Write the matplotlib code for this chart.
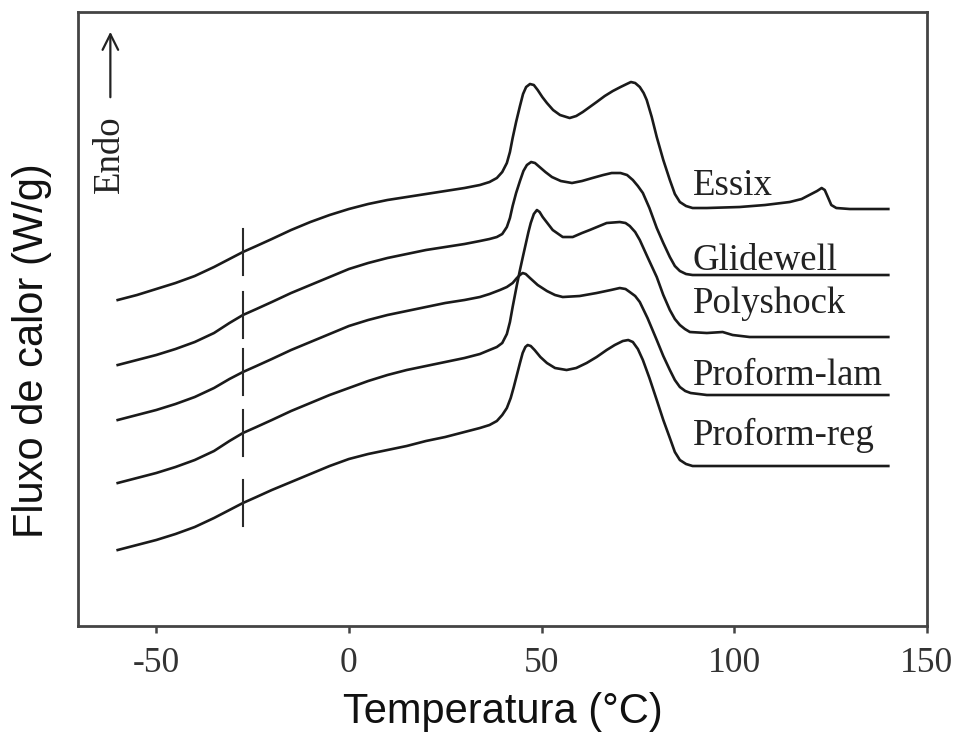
#DSC curves of the five thermoforming sheets

import matplotlib
matplotlib.use('Agg')
import matplotlib.pyplot as plt

plt.rcParams['axes.unicode_minus'] = False

# temperatures (deg C) below the melting region, shared by all curves
t_left = [-60, -55, -50, -45, -40, -35, -31, -27.5, -24, -20, -15, -10, -5, 0, 5, 10, 15,
          20, 25, 30, 34]

# heat flow, arbitrary units (curves shifted vertically as in the figure)
t_essix = t_left + [36.5, 38.4, 39.8, 41, 41.8, 42.5, 43.4, 44.4, 45.2, 46, 47, 48, 49, 50.2,
                    51.4, 53, 54.8, 57.3, 59, 60.7, 62.5, 64.3, 66.4, 68.5, 70.5, 72.1, 73.2,
                    74.3, 75.5, 76.5, 77.3, 78.6, 79.9, 81.6, 83.3, 84.6, 85.9, 87.5, 89.2, 92.9,
                    101.4, 108, 114.4, 117.5, 120, 121.5, 122.7, 123.5, 124.3, 125.2, 126.5, 130,
                    140]
f_essix = [326, 331, 337, 343, 350, 359, 367, 374, 380, 387, 396, 404, 411, 417, 422, 426, 429,
           432, 435, 438, 441,
           444, 448, 454, 463, 474, 488, 504, 520, 532, 539, 542, 541, 536, 529,
           523, 516, 511, 508, 510, 514, 519, 524, 530, 535, 539, 542, 544,
           543, 539, 533, 526, 509, 489, 466, 446, 432, 424, 420, 418, 418,
           419, 421, 424, 427, 432, 435, 438, 436, 429, 421, 418, 417,
           417]

t_glide = t_left + [36.5, 38.4, 39.8, 41, 41.8, 42.5, 43.4, 44.4, 45.3, 46.2, 47.3, 48.3, 49.5,
                    51, 52.7, 55, 57.9, 60.5, 63.2, 66, 68.2, 70.5, 72.2, 73.7, 75, 76.3, 78,
                    79.9, 81.6, 83.3, 84.6, 85.9, 87.5, 89.2, 140]
f_glide = [261, 266, 271, 277, 284, 293, 303, 311, 317, 324, 333, 341, 349, 357, 363, 368, 372,
           376, 379, 382, 385,
           387, 389, 392, 399, 408, 420, 433, 445, 455, 461, 464, 463, 459,
           454, 449, 445, 443, 445, 448, 451, 453, 453, 451, 446, 440, 433, 418,
           398, 383, 369, 360, 355, 352, 351, 351]

# third curve from the left: small early peak, ends at the "Proform-lam" level
t_lam = t_left + [36.5, 39.2, 41, 42.5, 43.6, 44.4, 45.1, 45.9, 47, 49, 51.4, 53.5, 55.5, 59.9,
                  64.3, 68, 70.3, 71.8, 72.9, 74.3, 75.5, 77.5, 79.9, 81.6, 83.3, 84.6, 85.9,
                  87.3, 88.7, 92.9, 140]
f_lam = [206, 211, 216, 222, 229, 238, 247, 254, 260, 267, 276, 284, 292, 300, 306, 311, 315,
         319, 323, 326, 329,
         332, 336, 339, 343, 348, 351, 353, 352, 348, 341, 335, 331, 329, 330,
         333, 336, 338, 337, 334, 330, 324, 308, 286, 270, 256, 246, 239,
         235, 233, 231, 231]

# fourth curve from the left: sharp peak, ends at the "Polyshock" level
t_poly = t_left + [36.5, 38.4, 39.8, 41, 41.8, 42.5, 43.6, 44.4, 45.2, 45.9, 46.6, 47.2, 48.0,
                   48.8, 49.5, 50.3, 51.5, 52.9, 55.5, 58.1, 60.5, 62.5, 66.9, 70.3, 71.8, 72.9,
                   74.3, 75.5, 77.5, 79.9, 81.6, 83.3, 84.6, 85.9, 87.2, 88.5, 92.9, 97, 99.6,
                   104, 140]
f_poly = [143, 148, 153, 159, 166, 175, 185, 193, 199, 206, 215, 223, 231, 238, 245, 251, 256,
          260, 264, 268, 272,
          276, 279, 283, 292, 304, 319, 341, 356, 370, 382, 394, 403, 412,
          416, 414, 409, 403, 396, 389, 389, 393, 396, 403, 404, 403, 400,
          394, 386, 369, 349, 331, 316, 307, 301, 297, 294, 293, 294, 291,
          289, 289]

t_reg = t_left + [36.5, 38.4, 39.8, 41, 42, 42.8, 43.6, 44.4, 45.1, 45.8, 46.4, 47.2, 48.2,
                  49.7, 51.4, 53.5, 56.5, 59, 61.7, 64.3, 66.9, 69, 71.1, 72.5, 73.7, 75, 76.3,
                  78, 79.9, 81.6, 83.3, 84.6, 85.9, 87.5, 89.2, 140]
f_reg = [76, 81, 86, 92, 99, 108, 116, 123, 129, 136, 144, 152, 160, 167, 172, 176, 180,
         185, 189, 194, 198,
         201, 205, 211, 218, 228, 239, 251, 263, 273, 279, 281, 280, 276,
         269, 263, 258, 256, 258, 263, 269, 276, 281, 285, 286, 284, 277, 266,
         248, 226, 206, 188, 174, 166, 162, 160, 160]

names = ['Essix', 'Glidewell', 'Polyshock', 'Proform-lam', 'Proform-reg']
label_y = [431, 356, 313, 241, 181]   # text baselines, same units as the curves
tg = -27.5                            # glass transition marker


def main():
    fig = plt.figure(figsize=(9.57, 7.37), dpi=100)
    ax = fig.add_axes([0.0815, 0.1506, 0.887, 0.8331])

    curves = [(t_essix, f_essix), (t_glide, f_glide), (t_lam, f_lam),
              (t_poly, f_poly), (t_reg, f_reg)]
    for t, f in curves:
        ax.plot(t, f, color='#1a1a1a', lw=1.9, solid_joinstyle='round')
        # short vertical dash at Tg on every curve
        yc = f[t.index(tg)]
        ax.plot([tg, tg], [yc - 23, yc + 23], color='#2a2a2a', lw=1.5)

    serif = 'Liberation Serif'
    for name, y in zip(names, label_y):
        ax.text(89.2, y, name, family=serif, fontsize=26.5, color='#222222',
                ha='left', va='baseline')

    # Endo arrow
    ax.annotate('', xy=(-61.9, 597), xytext=(-61.9, 526),
                arrowprops=dict(arrowstyle='->', color='#222222', lw=1.6,
                                mutation_scale=28))
    ax.text(-62.0, 472, 'Endo', family=serif, fontsize=26.5, color='#222222',
            rotation=90, ha='center', va='center')

    ax.set_xlim(-70.3, 150)
    ax.set_ylim(0, 614)
    ax.set_xticks([-50, 0, 50, 100, 150])
    ax.set_yticks([])
    ax.tick_params(axis='x', direction='out', length=5, width=1.8, color='#444444',
                   labelsize=25.5, labelcolor='#333333', pad=10)
    for lab in ax.get_xticklabels():
        lab.set_family(serif)
    for sp in ax.spines.values():
        sp.set_color('#444444')
        sp.set_linewidth(2.0)

    ax.set_xlabel('Temperatura (°C)', family='Liberation Sans', fontsize=30,
                  color='#111111', labelpad=9)
    ax.set_ylabel('Fluxo de calor (W/g)', family='Liberation Sans', fontsize=30,
                  color='#111111')
    ax.yaxis.set_label_coords(-0.031, 0.448)

    fig.savefig('out.png', dpi=100)


if __name__ == '__main__':
    main()
